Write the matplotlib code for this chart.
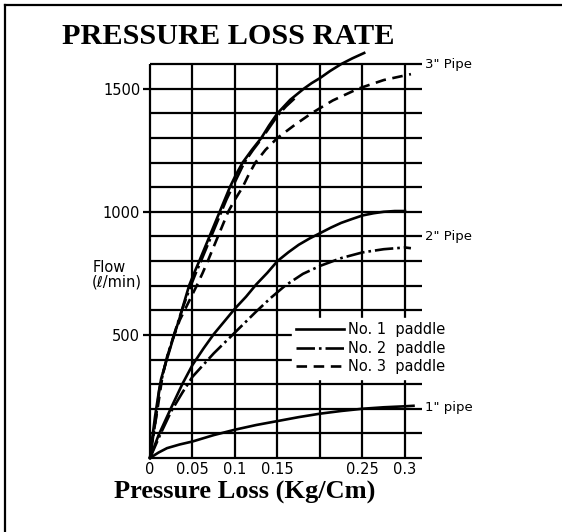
import numpy as np
import matplotlib.pyplot as plt
from matplotlib.lines import Line2D

# Data (x: Kg/Cm, y: l/min)
x_ticks = [0, 0.05, 0.1, 0.15, 0.25, 0.3]
x_tick_labels = ['0', '0.05', '0.1', '0.15', '0.25', '0.3']
y_ticks = [500, 1000, 1500]
grid_x = [0, 0.05, 0.1, 0.15, 0.2, 0.25, 0.3]
grid_y = list(range(0, 1700, 100))

# 3" pipe
p1_3_x = [0, 0.003, 0.006, 0.01, 0.013, 0.018, 0.022, 0.028, 0.035, 0.04, 0.046, 0.052, 0.058,
          0.064, 0.07, 0.076, 0.082, 0.088, 0.094, 0.101, 0.109, 0.12, 0.131, 0.14, 0.15,
          0.165, 0.181, 0.19, 0.2, 0.212, 0.225, 0.238, 0.252]
p1_3_y = [0, 90, 170, 260, 320, 380, 425, 495, 570, 630, 700, 752, 800,
          850, 900, 950, 1000, 1050, 1100, 1150, 1200, 1252, 1300, 1350, 1400,
          1455, 1500, 1522, 1543, 1572, 1600, 1623, 1645]
p2_3_x = [0, 0.002, 0.004, 0.008, 0.011, 0.02, 0.03, 0.039, 0.048, 0.054, 0.06, 0.066, 0.072,
          0.078, 0.084, 0.09, 0.097, 0.104, 0.111, 0.121, 0.132, 0.141, 0.15, 0.16, 0.17]
p2_3_y = [0, 45, 90, 190, 280, 410, 520, 615, 700, 752, 800, 850, 900,
          950, 1000, 1050, 1100, 1150, 1200, 1250, 1300, 1345, 1390, 1428, 1460]
p3_3_x = [0, 0.004, 0.008, 0.015, 0.021, 0.027, 0.035, 0.045, 0.055, 0.062, 0.068, 0.074, 0.08,
          0.086, 0.092, 0.1, 0.109, 0.116, 0.124, 0.136, 0.15, 0.17, 0.19, 0.215, 0.245,
          0.275, 0.307]
p3_3_y = [0, 95, 180, 340, 420, 485, 560, 630, 700, 752, 800, 850, 900,
          950, 1000, 1050, 1100, 1150, 1200, 1252, 1300, 1352, 1400, 1452, 1500,
          1535, 1559]

# 2" pipe
p1_2_x = [0, 0.01, 0.025, 0.038, 0.05, 0.063, 0.075, 0.088, 0.1, 0.113, 0.125, 0.138, 0.15,
          0.163, 0.175, 0.188, 0.2, 0.213, 0.225, 0.238, 0.25, 0.263, 0.275, 0.288, 0.3]
p1_2_y = [0, 92, 205, 300, 378, 445, 503, 557, 607, 655, 705, 752, 800,
          836, 866, 892, 913, 936, 955, 971, 985, 994, 1000, 1003, 1003]
p2_2_x = [0, 0.012, 0.025, 0.038, 0.05, 0.075, 0.1, 0.125, 0.142, 0.159, 0.18, 0.2, 0.225,
          0.25, 0.275, 0.3, 0.307]
p2_2_y = [0, 95, 190, 265, 330, 425, 510, 595, 650, 700, 748, 780, 812,
          835, 848, 855, 852]

# 1" pipe
p1_1_x = [0, 0.01, 0.02, 0.035, 0.05, 0.075, 0.1, 0.125, 0.15, 0.175, 0.2, 0.225, 0.25, 0.275, 0.3, 0.31]
p1_1_y = [0, 22, 40, 55, 67, 93, 115, 134, 150, 166, 180, 191, 200, 206, 210, 212]

dashdot = (0, (7, 1.5, 1, 1.5))
dashed = (0, (4, 2.5))

fig = plt.figure(figsize=(5.62, 5.32), dpi=100)
ax = fig.add_axes([0.2669, 0.1391, 0.5142, 0.7868])
ax.set_xlim(0, 0.34)
ax.set_ylim(0, 1700)
for s in ax.spines.values():
    s.set_visible(False)

# grid drawn by hand: horizontals run a bit past the last column
ax.vlines(grid_x, 0, 1600, color='black', lw=1.6, clip_on=False, zorder=1)
ax.hlines(grid_y, 0, 0.32, color='black', lw=1.6, clip_on=False, zorder=1)

lw = 1.9
kw = dict(color='black', lw=lw, clip_on=False, zorder=3, solid_joinstyle='round')
ax.plot(p1_3_x, p1_3_y, **kw)
ax.plot(p2_3_x, p2_3_y, ls=dashdot, **kw)
ax.plot(p3_3_x, p3_3_y, ls=dashed, **kw)
ax.plot(p1_2_x, p1_2_y, **kw)
ax.plot(p2_2_x, p2_2_y, ls=dashdot, **kw)
ax.plot(p1_1_x, p1_1_y, **kw)

ax.set_xticks(x_ticks)
ax.set_xticklabels(x_tick_labels)
ax.set_yticks(y_ticks)
ax.tick_params(axis='x', length=0, pad=3, labelsize=10.5)
ax.tick_params(axis='y', length=5, width=1.6, pad=2, labelsize=10.5)

ax.text(-0.068, 745, 'Flow\n(ℓ/min)', fontsize=10.5, ha='left', va='center',
        multialignment='left', linespacing=1.0)

ax.text(0.323, 1600, '3" Pipe', fontsize=9.5, ha='left', va='center')
ax.text(0.323, 900, '2" Pipe', fontsize=9.5, ha='left', va='center')
ax.text(0.323, 205, '1" pipe', fontsize=9.5, ha='left', va='center')

handles = [Line2D([], [], color='black', lw=lw),
           Line2D([], [], color='black', lw=lw, ls=dashdot),
           Line2D([], [], color='black', lw=lw, ls=dashed)]
leg = ax.legend(handles, ['No. 1  paddle', 'No. 2  paddle', 'No. 3  paddle'],
                loc='upper left', bbox_to_anchor=(0.49, 0.335), fontsize=10.5,
                frameon=True, fancybox=False, framealpha=1, edgecolor='white',
                handlelength=3.3, handletextpad=0.3, labelspacing=0.25,
                borderpad=0.3, borderaxespad=0)
leg.set_zorder(5)

fig.text(228 / 562, 1 - 36 / 532, 'PRESSURE LOSS RATE', family='Liberation Serif',
         fontweight='bold', fontsize=21.8, ha='center', va='center')
fig.text(245 / 562, 1 - 492 / 532, 'Pressure Loss (Kg/Cm)', family='Liberation Serif',
         fontweight='bold', fontsize=19, ha='center', va='center')

# page border (left and top edges)
fig.add_artist(Line2D([5 / 562, 5 / 562], [0, 1 - 5 / 532], transform=fig.transFigure,
                      color='black', lw=1.6))
fig.add_artist(Line2D([5 / 562, 1], [1 - 5 / 532, 1 - 5 / 532], transform=fig.transFigure,
                      color='black', lw=1.6))

fig.savefig('out.png', dpi=100)
